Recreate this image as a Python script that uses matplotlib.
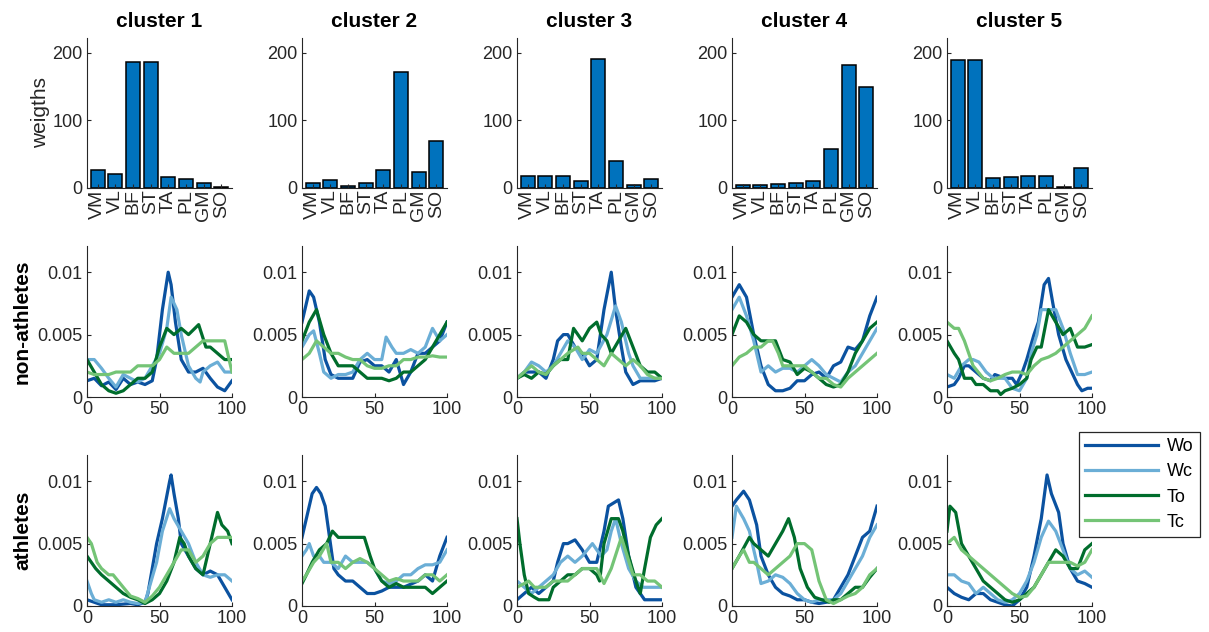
import numpy as np
import matplotlib
matplotlib.use("Agg")
import matplotlib.pyplot as plt

plt.rcParams['font.family'] = ['Liberation Sans', 'DejaVu Sans']

# bar weights per cluster
muscles = ['VM', 'VL', 'BF', 'ST', 'TA', 'PL', 'GM', 'SO']
weights = [
    [27, 20, 187, 187, 16, 13, 7, 2],
    [7, 12, 3, 8, 26, 171, 23, 70],
    [18, 18, 18, 10, 191, 40, 5, 14],
    [5, 5, 6, 7, 11, 57, 182, 150],
    [189, 190, 15, 17, 18, 18, 1, 29],
]
series = ['Wo', 'Wc', 'To', 'Tc']
colors = ['#0b52a0', '#6baed6', '#006d2c', '#74c476']

# activation curves (x in % cycle, y in 1e-3), one knot list per cluster
na_wo = [
    [(0,1.3),(5,1.5),(10,0.9),(15,1.2),(20,0.6),(25,1.5),(30,1.0),(35,1.2),(40,1.0),(45,1.3),(48,3),(52,7),(56,10),(58,9),(61,6),(65,3),(70,2),(75,2),(80,2.3),(85,1.5),(90,0.8),(95,0.5),(100,1.3)],
    [(0,6),(5,8.5),(8,8),(12,6),(16,3),(20,1.8),(25,1.5),(30,1.5),(35,1.5),(40,2.8),(45,3),(50,2.5),(55,2.5),(60,2),(65,3),(70,1),(75,2),(80,3.5),(85,3.5),(90,4),(95,4.5),(100,6)],
    [(0,1.5),(5,2),(10,2),(15,2),(20,1.5),(25,3),(28,4.5),(32,5),(35,5),(40,4),(45,3.5),(50,2.5),(55,3),(60,7),(65,10),(68,7),(72,4),(75,2),(80,1),(85,1.3),(90,1.3),(95,1.3),(100,1.5)],
    [(0,8),(5,9),(10,8),(15,5),(20,2.5),(25,1),(30,0.5),(35,0.5),(40,0.7),(45,1.3),(50,1.3),(55,1.8),(60,2),(65,1.5),(70,2.5),(75,2.8),(80,4),(85,3.8),(90,4.5),(95,6.5),(100,8)],
    [(0,0.8),(5,1),(8,1.5),(12,2.5),(15,2.5),(20,2),(25,1.5),(30,1.3),(33,1.8),(40,1.5),(45,1.5),(48,1),(52,2),(55,3),(60,5),(63,6),(67,9),(70,9.5),(73,7.5),(77,5),(82,3),(90,1),(93,0.5),(97,0.7),(100,0.7)],
]
na_wc = [
    [(0,3),(5,3),(10,2.3),(15,1.5),(20,0.8),(25,1.8),(30,1.5),(35,1.2),(40,1.5),(45,2.5),(50,3.5),(55,5.5),(58,8),(62,7),(65,5),(70,2.5),(75,1.5),(78,1.2),(80,2),(85,2.5),(90,2.8),(95,2),(100,2)],
    [(0,4),(5,5),(8,5.3),(12,3.5),(15,2),(20,1.5),(25,1.8),(30,1.8),(35,2),(40,3),(45,3.5),(50,3),(55,3),(58,4.8),(62,4),(65,3.5),(70,3.5),(75,3.8),(80,3.5),(85,4),(90,5.5),(95,4.5),(100,5)],
    [(0,1.5),(5,2),(10,2.8),(15,2.5),(20,2),(25,2.5),(30,3.5),(35,4.5),(40,4),(45,3),(50,3.8),(55,3.5),(62,5),(68,7.3),(72,6),(77,3.5),(80,2.5),(85,1.5),(90,1.5),(95,1.5),(100,1.5)],
    [(0,7),(5,8),(10,6.5),(15,4.5),(20,2),(25,2.5),(30,2),(35,2.3),(40,2.3),(45,2),(50,2.5),(55,3),(60,2.5),(65,1.8),(70,1.5),(75,1.2),(80,2),(85,2.5),(90,3.5),(95,4.5),(100,5.5)],
    [(0,1.8),(5,1.5),(10,2.5),(15,3),(18,3),(22,2.8),(27,2),(32,1.5),(40,1.5),(45,0.7),(50,0.5),(55,1.5),(58,3.5),(62,5),(65,7),(70,7),(75,7),(80,5.5),(85,3.5),(90,1.8),(95,1.8),(100,2)],
]
na_to = [
    [(0,3),(5,2),(10,1.0),(15,0.5),(20,0.3),(25,0.5),(30,1),(35,1.5),(40,1.5),(45,2),(50,4),(55,5.5),(60,5),(65,5.5),(70,5),(77,5.8),(82,4),(85,4),(90,3.5),(95,3),(100,3)],
    [(0,4.5),(5,6),(10,7),(15,5),(20,3.5),(25,2.5),(30,2.5),(35,2.5),(40,2),(45,1.5),(50,1.5),(55,1.5),(60,1.3),(65,1.5),(70,2),(75,2),(80,2.5),(85,3),(90,4),(95,5),(100,6)],
    [(0,1.5),(5,1.8),(10,1.5),(15,2),(20,1.8),(25,2.5),(30,3),(35,3),(39,5.5),(45,4.5),(50,5.5),(55,6),(58,5),(62,4.5),(65,3.5),(70,4.5),(75,5.5),(80,4),(85,2.5),(90,2),(95,2),(100,1.5)],
    [(0,5),(5,6.5),(10,6),(15,5),(20,4.5),(25,4.5),(30,4.5),(35,3),(40,2.8),(45,1.8),(50,2.3),(55,2),(60,1.5),(65,1),(70,0.8),(75,1),(80,2),(85,3.5),(90,4.5),(95,5.5),(100,6)],
    [(0,4.5),(5,3.5),(8,3),(12,1.5),(17,1.5),(20,1),(25,1),(30,0.5),(35,0.5),(37,0.2),(40,0.5),(45,0.7),(50,1),(55,1.5),(58,3),(62,4),(65,4),(70,7),(75,6),(80,5),(85,5.5),(90,4),(95,4),(100,4.2)],
]
na_tc = [
    [(0,2),(5,1.8),(10,1.8),(15,1.8),(20,2),(25,2),(30,2),(35,2.5),(40,2.5),(45,2.5),(50,3),(55,4),(60,3.5),(65,3.5),(70,3.5),(75,4),(80,4.5),(85,4.5),(90,4.5),(95,4.5),(100,2)],
    [(0,3),(5,3.5),(10,4.5),(15,4),(20,3.5),(25,3.5),(30,3.2),(35,3),(40,3),(45,2.5),(50,2.3),(55,2.3),(60,2.5),(65,2.5),(70,3),(75,3),(80,3.2),(85,3.2),(90,3.3),(95,3.2),(100,3.2)],
    [(0,1.5),(5,2),(10,2.5),(15,2),(20,1.8),(25,2.5),(30,3),(35,3.5),(42,4),(45,3.5),(50,3.5),(55,3),(60,2.5),(65,3.5),(70,3),(75,2.5),(80,3),(85,2.5),(90,1.8),(95,1.5),(100,1.5)],
    [(0,2.5),(5,3.2),(10,3.5),(15,4),(20,4),(25,4.5),(28,4.5),(32,3.5),(35,2.5),(40,2.5),(45,2.5),(50,2.5),(55,2),(60,1.5),(65,1.5),(70,1),(75,0.8),(80,1.5),(85,2),(90,2.5),(95,3),(100,3.5)],
    [(0,6),(5,5.5),(8,5.5),(12,4.5),(18,2.5),(25,1.5),(30,1.3),(35,1.5),(40,1.8),(45,2),(50,2),(55,1.8),(60,2.5),(65,3),(70,3.2),(75,3.5),(80,4),(85,4.5),(90,5),(95,5.5),(100,6.5)],
]
at_wo = [
    [(0,0.5),(5,0.3),(10,0.1),(20,0.1),(30,0.2),(35,0.1),(40,0.3),(42,1),(45,3),(48,5),(52,7),(57,10),(58,10.5),(60,9),(63,7),(65,5),(70,4),(75,3),(80,2.5),(85,2.8),(90,2.5),(95,1.5),(100,0.5)],
    [(0,5.5),(3,7),(7,9),(10,9.5),(13,9),(16,8),(19,5.5),(22,3),(25,2.5),(30,2),(35,2),(40,1.5),(45,1),(50,1),(55,1.2),(60,1.5),(70,1.5),(80,2),(85,2.5),(90,2),(95,4),(100,5.5)],
    [(0,0.5),(5,1),(10,1.5),(15,1),(20,1.5),(25,2),(28,3.5),(32,5),(35,5),(40,5.3),(45,4.5),(50,3.5),(55,3.5),(60,6),(63,8),(70,8.5),(73,7),(77,4),(82,1.5),(88,0.5),(95,0.5),(100,0.5)],
    [(0,8),(3,8.5),(8,9.2),(12,8.5),(17,6.5),(20,4),(25,2.5),(30,1.5),(35,1),(40,0.8),(45,0.5),(50,0.5),(55,0.3),(60,0.2),(65,0.3),(70,0.5),(75,1.5),(80,2.5),(85,4),(90,5.5),(95,6),(100,8)],
    [(0,1.5),(5,1),(10,0.7),(15,0.5),(20,1),(25,1),(30,0.5),(35,0.3),(40,0.1),(45,0),(50,0.5),(55,1.5),(60,4),(65,7),(69,10.5),(72,9),(77,7.5),(80,5),(85,3),(90,2),(95,1.8),(100,1.5)],
]
at_wc = [
    [(0,2),(3,1),(5,0.5),(10,0.3),(15,0.5),(20,0.3),(25,0.5),(30,0.3),(35,0.2),(40,0.3),(43,1.5),(48,3.5),(52,6),(57,7.8),(60,7),(65,6),(70,5),(75,3.5),(80,2.5),(85,2.3),(90,2.5),(95,2.5),(100,2)],
    [(0,4),(3,4.5),(5,5),(8,4),(12,4),(15,3.5),(20,3.5),(25,3),(30,4),(35,3.5),(40,3.5),(45,3.5),(50,3),(55,2),(60,1.8),(65,2),(70,2.5),(75,2.5),(80,3),(85,3.3),(90,3.3),(95,3.5),(100,4.5)],
    [(0,2),(5,1.5),(10,1),(15,1.5),(20,2),(25,2.5),(30,3.5),(35,4),(40,3.5),(45,4),(52,5),(58,4),(62,4.5),(65,6),(68,7),(72,5),(77,3),(82,2),(87,1.5),(95,1.5),(100,1.5)],
    [(0,5.5),(3,8),(8,7),(12,6),(17,3.5),(20,1.8),(25,2),(30,2.5),(35,2.3),(40,1.8),(45,1),(50,0.5),(55,0.3),(60,0.5),(65,0.5),(70,0.5),(75,1),(80,2),(85,3),(90,4),(95,5.5),(100,6.5)],
    [(0,2.5),(5,2.5),(10,2),(15,1.8),(20,1),(25,1.5),(30,1),(35,0.5),(40,0.3),(45,0.5),(50,1),(55,2),(60,3.5),(65,5.5),(70,6.8),(75,6),(80,4.5),(85,3),(90,2.5),(95,2.8),(100,2.3)],
]
at_to = [
    [(0,4),(3,3.5),(6,3),(10,2.5),(15,2),(20,1.5),(25,1),(30,0.7),(35,0.5),(40,0.2),(45,0.5),(50,1),(55,2),(60,3.5),(64,5.5),(67,5),(70,4),(75,3),(80,2.5),(85,5),(90,7.5),(93,6.5),(97,6),(100,5)],
    [(0,1.8),(3,2.5),(7,3.5),(12,4.5),(17,5),(21,6),(25,5.5),(30,5.5),(35,5.5),(40,5.5),(43,5.5),(47,4),(50,3),(55,2),(60,1.5),(65,1.8),(70,1.5),(75,1.5),(80,1.5),(85,1.5),(90,1),(95,1.5),(100,2)],
    [(0,7),(2,5),(5,2.5),(8,1),(12,0.7),(15,0.5),(22,0.5),(25,1.5),(30,2),(35,2.5),(40,2.5),(45,3),(50,3),(55,2.5),(57,2),(60,5),(65,7),(70,7),(73,6),(77,4),(82,2),(85,1),(88,3),(92,5.5),(96,6.5),(100,7)],
    [(0,3),(5,4),(12,5.5),(15,5),(20,4.5),(25,4),(30,5),(35,6),(39,7),(43,5.5),(47,3),(52,1.5),(57,0.7),(62,0.5),(67,0.3),(70,0.5),(75,0.5),(80,1),(85,1.5),(90,1.5),(95,2.3),(100,3)],
    [(0,6),(2,8),(6,7.5),(10,5),(15,4),(20,3),(25,2),(30,1.5),(35,1),(40,0.5),(45,0.3),(50,0.5),(55,1),(60,1.5),(65,2.5),(70,3.5),(75,4.5),(80,4),(85,3),(90,3),(95,4.5),(100,5)],
]
at_tc = [
    [(0,5.5),(3,5),(7,3.5),(10,3),(15,2.5),(18,2.5),(25,1.5),(30,0.8),(35,0.6),(40,0.3),(45,0.8),(50,1.5),(55,2.5),(60,3.5),(65,4.5),(70,4.5),(75,3.5),(80,4),(85,5),(90,5.5),(95,5.5),(100,5.5)],
    [(0,2),(3,2.5),(8,3.5),(12,4),(17,5),(20,3.5),(25,3.5),(30,3),(35,3.5),(40,3.8),(45,3.5),(50,3),(55,2.5),(60,2),(65,2.2),(70,2),(75,2),(80,2),(85,2.5),(90,2.5),(95,2),(100,2.5)],
    [(0,1.5),(5,1.8),(8,2),(12,1.5),(20,1.5),(25,2),(30,2),(35,2),(40,2.5),(45,3),(50,3),(55,3),(60,1.8),(65,3),(72,5.5),(76,4),(80,2.5),(85,2.5),(90,2),(95,2),(100,1.5)],
    [(0,3),(5,4),(8,4.5),(12,3.5),(15,3.5),(20,3),(25,2.5),(30,3),(35,3.5),(40,4),(45,5),(50,5),(55,4.5),(60,2),(65,0.5),(70,0.2),(75,0.5),(80,0.8),(85,1),(90,1.5),(95,2.5),(100,3)],
    [(0,5),(5,5.5),(10,4.5),(15,4),(20,3.5),(25,3),(30,2.5),(35,2),(40,1.5),(45,1),(50,0.7),(55,0.8),(60,1.5),(65,2.5),(70,3.5),(75,3.5),(80,3.5),(85,3.5),(90,3.2),(95,3.5),(100,4.5)],
]
non_athletes = [na_wo, na_wc, na_to, na_tc]
athletes = [at_wo, at_wc, at_to, at_tc]

W, H = 1209, 632
fig = plt.figure(figsize=(W / 100, H / 100), dpi=100)
axc = '#262626'
col_left = [87, 302, 517, 732, 947]
rows = [(38, 188), (246, 397), (455, 606)]


def make_ax(col, row):
    t, b = rows[row]
    ax = fig.add_axes([col_left[col] / W, 1 - b / H, 145 / W, (b - t) / H])
    for s in ['top', 'right']:
        ax.spines[s].set_visible(False)
    for s in ['left', 'bottom']:
        ax.spines[s].set_color(axc)
        ax.spines[s].set_linewidth(0.8)
    ax.tick_params(direction='in', length=3, width=0.8, colors=axc, labelsize=13, pad=3)
    return ax


lines = []
for c in range(5):
    ax = make_ax(c, 0)
    ax.bar(np.arange(1, 9), weights[c], width=0.8, color='#0072BD', edgecolor='black', linewidth=1.1)
    ax.set_xlim(0.4, 8.6)
    ax.set_ylim(0, 222)
    ax.set_yticks([0, 100, 200])
    ax.set_xticks(np.arange(1, 9))
    ax.set_xticklabels(muscles, rotation=90)
    ax.tick_params(axis='x', pad=1, labelsize=14)
    ax.set_title('cluster %d' % (c + 1), fontsize=15, fontweight='bold', pad=8)
    if c == 0:
        ax.set_ylabel('weigths', fontsize=15, color=axc, labelpad=2)

    for r, group in [(1, non_athletes), (2, athletes)]:
        ax = make_ax(c, r)
        for k, s in enumerate(group):
            xs, ys = zip(*s[c])
            ln, = ax.plot(xs, np.array(ys) * 1e-3, color=colors[k], lw=2.3, label=series[k])
            if r == 2 and c == 4:
                lines.append(ln)
        ax.set_xlim(0, 100)
        ax.set_ylim(0, 0.0121)
        ax.set_xticks([0, 50, 100])
        ax.set_yticks([0, 0.005, 0.01])
        ax.set_yticklabels(['0', '0.005', '0.01'])
        if c == 0:
            ax.set_ylabel('non-athletes' if r == 1 else 'athletes', fontsize=15,
                          fontweight='bold', labelpad=4)

leg = fig.legend(lines, series, loc='upper left', bbox_to_anchor=(1079 / W, 1 - 432 / H),
                 borderaxespad=0, fontsize=13, handlelength=4.0, fancybox=False, framealpha=1,
                 edgecolor=axc, borderpad=0.35, labelspacing=0.45, handletextpad=0.5)
leg.get_frame().set_linewidth(0.9)

fig.savefig('out.png', dpi=100)
